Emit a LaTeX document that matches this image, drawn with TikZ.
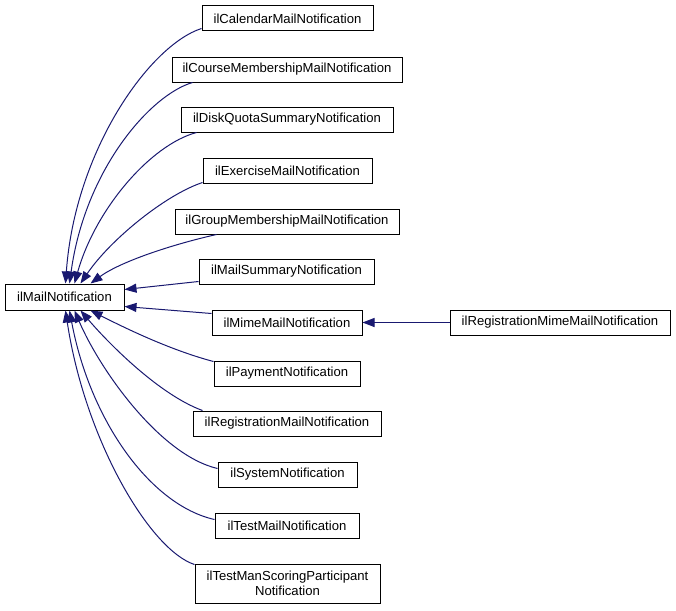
\documentclass[tikz,border=0pt]{standalone}
\usepackage{fontspec}
\setmainfont{Liberation Sans}
\usetikzlibrary{arrows.meta,calc}
\definecolor{edgeblue}{RGB}{25,25,112}
\begin{document}
\begin{tikzpicture}[x=1pt,y=-1pt,
  cls/.style={draw=black,fill=white,line width=1pt,inner sep=0pt,
    font=\fontsize{13.1}{15.2}\selectfont,align=center,minimum height=25pt},
  edge/.style={draw=edgeblue,line width=1pt,
    -{Triangle[length=12pt,width=9pt]}}]
\useasboundingbox (0,0) rectangle (676,610);
\node[cls,minimum width=171pt] (cal)    at (287.5,18.5)  {ilCalendarMailNotification};
\node[cls,minimum width=230pt] (course) at (287,69.5)    {ilCourseMembershipMailNotification};
\node[cls,minimum width=212pt] (disk)   at (287,119.5)   {ilDiskQuotaSummaryNotification};
\node[cls,minimum width=169pt] (exer)   at (287.5,170.5) {ilExerciseMailNotification};
\node[cls,minimum width=224pt] (group)  at (287,221.5)   {ilGroupMembershipMailNotification};
\node[cls,minimum width=175pt] (summ)   at (286.5,271.5) {ilMailSummaryNotification};
\node[cls,minimum width=119pt,minimum height=26pt] (mail) at (64.5,297) {ilMailNotification};
\node[cls,minimum width=150pt] (mime)   at (287,322.5)   {ilMimeMailNotification};
\node[cls,minimum width=146pt] (pay)    at (287,373.5)   {ilPaymentNotification};
\node[cls,minimum width=188pt] (reg)    at (287,423.5)   {ilRegistrationMailNotification};
\node[cls,minimum width=139pt] (sys)    at (287.5,474.5) {ilSystemNotification};
\node[cls,minimum width=144pt] (test)   at (287,525.5)   {ilTestMailNotification};
\node[cls,minimum width=185pt,minimum height=39pt] (tman) at (287.5,583.5) {ilTestManScoringParticipant\\Notification};
\node[cls,minimum width=220pt] (regmime) at (560,322.5)  {ilRegistrationMimeMailNotification};

\draw[edge] ($(cal.south west)+(0,-3)$) .. controls (150,45) and (75,150) .. ($(mail.north west)+(61,0)$);
\draw[edge] ($(course.south west)+(21,0)$) .. controls (150,95) and (85,170) .. ($(mail.north west)+(65,0)$);
\draw[edge] ($(disk.south west)+(16,0)$) .. controls (150,145) and (95,210) .. ($(mail.north west)+(70,0)$);
\draw[edge] ($(exer.south west)+(0,-1)$) .. controls (165,195) and (110,240) .. ($(mail.north west)+(76,0)$);
\draw[edge] ($(group.south west)+(42,0)$) .. controls (170,245) and (120,262) .. ($(mail.north west)+(86,0)$);
\draw[edge] ($(summ.south west)+(0,-3)$) -- ($(mail.north east)+(0,6)$);
\draw[edge] ($(mime.north west)+(0,4)$) -- ($(mail.south east)+(0,-4)$);
\draw[edge] ($(pay.north west)+(0,1)$) .. controls (170,350) and (125,328) .. ($(mail.south west)+(86,0)$);
\draw[edge] ($(reg.north west)+(10,0)$) .. controls (160,395) and (110,345) .. ($(mail.south west)+(76,0)$);
\draw[edge] ($(sys.west)+(0,-6)$) .. controls (160,455) and (100,370) .. ($(mail.south west)+(70,0)$);
\draw[edge] ($(test.west)+(0,-6)$) .. controls (150,505) and (90,420) .. ($(mail.south west)+(65,0)$);
\draw[edge] ($(tman.north west)+(0,1)$) .. controls (150,550) and (85,440) .. ($(mail.south west)+(61,0)$);
\draw[edge] (regmime.west) -- (mime.east);
\end{tikzpicture}
\end{document}
